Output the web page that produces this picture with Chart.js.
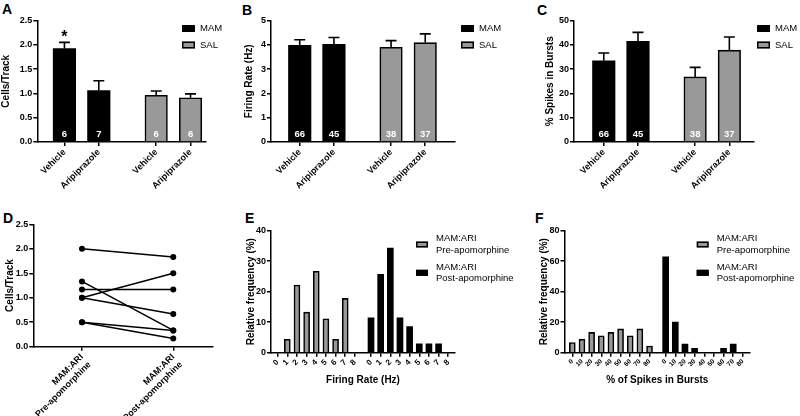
<!DOCTYPE html>
<html>
<head>
<meta charset="utf-8">
<script src="https://cdn.jsdelivr.net/npm/chart.js@4.4.1/dist/chart.umd.min.js"></script>
<style>
body { margin:0; background:#fff; width:800px; height:416px; position:relative; overflow:hidden; }
canvas { position:absolute; }
.letter { position:absolute; font:bold 14px/1 "Liberation Sans", Arial, sans-serif; color:#000; }
</style>
</head>
<body>
<div class="letter" style="left:2px;top:2px">A</div>
<div class="letter" style="left:242px;top:3px">B</div>
<div class="letter" style="left:537px;top:3px">C</div>
<div class="letter" style="left:3px;top:211px">D</div>
<div class="letter" style="left:245px;top:211px">E</div>
<div class="letter" style="left:535px;top:211px">F</div>
<canvas id="cA" width="240" height="205" style="left:0;top:0"></canvas>
<canvas id="cB" width="285" height="205" style="left:240px;top:0"></canvas>
<canvas id="cC" width="264" height="205" style="left:536px;top:0"></canvas>
<canvas id="cD" width="240" height="211" style="left:0;top:205px"></canvas>
<canvas id="cE" width="285" height="211" style="left:240px;top:205px"></canvas>
<canvas id="cF" width="270" height="211" style="left:530px;top:205px"></canvas>
<script>
// ---- data ----
var groupNames = ['MAM', 'SAL'];
var treatments = ['Vehicle', 'Aripiprazole'];

var cellsMAM = [1.92, 1.06];
var cellsMAMerr = [0.13, 0.20];
var cellsSAL = [0.96, 0.91];
var cellsSALerr = [0.09, 0.08];
var cellsN_MAM = ['6', '7'];
var cellsN_SAL = ['6', '6'];
var cellsSigMAM = ['*', ''];

var rateMAM = [3.98, 4.02];
var rateMAMerr = [0.23, 0.28];
var rateSAL = [3.90, 4.09];
var rateSALerr = [0.27, 0.36];

var burstMAM = [33.4, 41.4];
var burstMAMerr = [3.2, 3.7];
var burstSAL = [26.8, 37.8];
var burstSALerr = [3.9, 5.4];

var unitsN_MAM = ['66', '45'];
var unitsN_SAL = ['38', '37'];

var pairLabels = [['MAM:ARI', 'Pre-apomorphine'], ['MAM:ARI', 'Post-apomorphine']];
var pairPre = [2.0, 1.333, 1.167, 1.0, 1.0, 0.5, 0.5];
var pairPost = [1.833, 0.333, 1.167, 1.5, 0.667, 0.333, 0.167];

var histKeys = [['MAM:ARI', 'Pre-apomorphine'], ['MAM:ARI', 'Post-apomorphine']];
var rateBins = ['0', '1', '2', '3', '4', '5', '6', '7', '8'];
var ratePre = [0, 4.4, 22.2, 13.3, 26.7, 11.1, 4.4, 17.8, 0];
var ratePost = [11.4, 25.7, 34.3, 11.4, 8.6, 2.9, 2.9, 2.9, 0];
var burstBins = ['0', '10', '20', '30', '40', '50', '60', '70', '80'];
var burstPre = [6.7, 8.9, 13.3, 11.1, 13.3, 15.6, 11.1, 15.6, 4.4];
var burstPost = [62.9, 20.0, 5.7, 2.9, 0, 0, 2.9, 5.7, 0];

// ---- layout ----
var FONT = '"Liberation Sans", Arial, sans-serif';
Chart.defaults.font.family = FONT;
Chart.defaults.color = '#000';
var GAP = 0.67;   // extra space between the two groups, in bar slots
var BLACK = '#000000', GREY = '#999999';

// x slot of bar i in group g (groups laid side by side)
function slot(g, i, n) { return g * (n + GAP) + i; }

var extras = {
  id: 'extras',
  afterDatasetsDraw: function(chart, args, opts) {
    var ctx = chart.ctx, ys = chart.scales.y;
    chart.data.datasets.forEach(function(ds, di) {
      var meta = chart.getDatasetMeta(di);
      meta.data.forEach(function(el, i) {
        ctx.save();
        if (ds.errors) {
          var top = ys.getPixelForValue(ds.data[i].y + ds.errors[i]);
          ctx.strokeStyle = '#000';
          ctx.lineWidth = 1.6;
          ctx.beginPath();
          ctx.moveTo(el.x, el.y);
          ctx.lineTo(el.x, top);
          ctx.moveTo(el.x - 5.5, top);
          ctx.lineTo(el.x + 5.5, top);
          ctx.stroke();
          if (ds.sig && ds.sig[i]) {
            ctx.fillStyle = '#000';
            ctx.font = 'bold 16px ' + FONT;
            ctx.textAlign = 'center';
            ctx.textBaseline = 'alphabetic';
            ctx.fillText(ds.sig[i], el.x, top);
          }
        }
        if (ds.counts) {
          ctx.fillStyle = '#fff';
          ctx.font = 'bold 9.5px ' + FONT;
          ctx.textAlign = 'center';
          ctx.textBaseline = 'middle';
          ctx.fillText(ds.counts[i], el.x, ys.getPixelForValue(0) - 8);
        }
        ctx.restore();
      });
    });
    var L = opts.key;
    if (!L) return;
    ctx.save();
    chart.data.datasets.forEach(function(ds, di) {
      var cy = L.y + di * L.step;
      ctx.fillStyle = ds.backgroundColor;
      ctx.fillRect(L.x, cy - L.h / 2, L.w, L.h);
      ctx.strokeStyle = '#000';
      ctx.lineWidth = 1.5;
      ctx.strokeRect(L.x + 0.75, cy - L.h / 2 + 0.75, L.w - 1.5, L.h - 1.5);
      ctx.fillStyle = '#000';
      ctx.font = '9.5px ' + FONT;
      ctx.textAlign = 'left';
      ctx.textBaseline = 'middle';
      var lines = ds.keyLines || [ds.label];
      lines.forEach(function(t, k) {
        ctx.fillText(t, L.x + L.tx, cy + (k - (lines.length - 1) / 2) * L.lh);
      });
    });
    ctx.restore();
  }
};

function axisStyle() {
  return {
    grid: { display: true, drawOnChartArea: false, drawTicks: true, tickLength: 4, color: '#000', lineWidth: 1.5, offset: false },
    border: { display: true, color: '#000', width: 1.5 }
  };
}

function yAxis(c) {
  var a = axisStyle();
  a.min = 0; a.max = c.ymax;
  a.afterFit = function(s) { s.width = c.yw; };
  a.ticks = { stepSize: c.step, padding: 1, font: { size: 9, weight: 'bold' },
    callback: function(v) { return c.dec ? v.toFixed(c.dec) : v; } };
  a.title = { display: true, text: c.ytitle, font: { size: 10, weight: 'bold' }, padding: { top: c.ytp, bottom: 0 } };
  return a;
}

function xAxis(c, tickPos, tickText) {
  var a = axisStyle();
  a.type = 'linear';
  a.offset = false;
  a.min = c.xmin; a.max = c.xmax;
  a.afterBuildTicks = function(s) { s.ticks = tickPos.map(function(v) { return { value: v }; }); };
  a.afterFit = function(s) { s.height = c.xh; };
  a.ticks = { autoSkip: false, maxRotation: 45, minRotation: 45, padding: 1,
    font: { size: c.xfs, weight: 'bold' },
    callback: function(v, i) { return tickText[i]; } };
  if (c.xtitle) {
    a.title = { display: true, text: c.xtitle, font: { size: 10, weight: 'bold' }, padding: { top: 0, bottom: 0 } };
  }
  return a;
}

function barPanel(id, c, series, cats) {
  var tickPos = [], tickText = [];
  var datasets = series.map(function(s, g) {
    var n = s.values.length;
    s.values.forEach(function(v, i) { tickPos.push(slot(g, i, n)); tickText.push(cats[i]); });
    return {
      label: s.label, keyLines: s.keyLines,
      data: s.values.map(function(v, i) { return { x: slot(g, i, n), y: v }; }),
      errors: s.errors, counts: s.counts, sig: s.sig,
      backgroundColor: s.color, borderColor: '#000',
      borderWidth: s.color === GREY ? 1.6 : 0,
      barThickness: c.barW, grouped: false
    };
  });
  new Chart(document.getElementById(id), {
    type: 'bar',
    data: { datasets: datasets },
    options: {
      responsive: false, animation: false, events: [],
      layout: { padding: c.pad },
      plugins: { legend: { display: false }, tooltip: { enabled: false }, extras: { key: c.key } },
      scales: { x: xAxis(c, tickPos, tickText), y: yAxis(c) }
    },
    plugins: [extras]
  });
}

var topKey = { w: 13, h: 7, step: 16.5, tx: 18, lh: 11 };
function key(x, y, base) { var k = Object.assign({}, base); k.x = x; k.y = y; return k; }

// A
barPanel('cA', {
  pad: { left: 0, top: 20.5, right: 34, bottom: 0 }, yw: 37.3, xh: 63, ytp: 0,
  ymax: 2.5, step: 0.5, dec: 1, ytitle: 'Cells/Track',
  xmin: -0.79, xmax: 4.12, xfs: 9, barW: 22.5,
  key: key(182, 28.5, topKey)
}, [
  { label: groupNames[0], values: cellsMAM, errors: cellsMAMerr, counts: cellsN_MAM, sig: cellsSigMAM, color: BLACK },
  { label: groupNames[1], values: cellsSAL, errors: cellsSALerr, counts: cellsN_SAL, color: GREY }
], treatments);

// B
barPanel('cB', {
  pad: { left: 0, top: 20.5, right: 70, bottom: 0 }, yw: 31, xh: 63, ytp: 3,
  ymax: 5, step: 1, dec: 0, ytitle: 'Firing Rate (Hz)',
  xmin: -0.84, xmax: 4.54, xfs: 9, barW: 22.5,
  key: key(221, 28.5, topKey)
}, [
  { label: groupNames[0], values: rateMAM, errors: rateMAMerr, counts: unitsN_MAM, color: BLACK },
  { label: groupNames[1], values: rateSAL, errors: rateSALerr, counts: unitsN_SAL, color: GREY }
], treatments);

// C
barPanel('cC', {
  pad: { left: 0, top: 20.5, right: 46, bottom: 0 }, yw: 38, xh: 63, ytp: 8,
  ymax: 50, step: 10, dec: 0, ytitle: '% Spikes in Bursts',
  xmin: -0.87, xmax: 4.39, xfs: 9, barW: 22.5,
  key: key(221, 28.5, topKey)
}, [
  { label: groupNames[0], values: burstMAM, errors: burstMAMerr, counts: unitsN_MAM, color: BLACK },
  { label: groupNames[1], values: burstSAL, errors: burstSALerr, counts: unitsN_SAL, color: GREY }
], treatments);

// D
(function() {
  var c = { yw: 33.3, ytp: 4, ymax: 2.5, step: 0.5, dec: 1, ytitle: 'Cells/Track',
            xmin: -0.533, xmax: 1.435, xh: 69.3, xfs: 9 };
  var datasets = pairPre.map(function(v, i) {
    return { data: [{ x: 0, y: v }, { x: 1, y: pairPost[i] }],
      borderColor: '#000', borderWidth: 1.5, backgroundColor: '#000',
      pointRadius: 3, pointBackgroundColor: '#000', pointBorderWidth: 0 };
  });
  new Chart(document.getElementById('cD'), {
    type: 'line',
    data: { datasets: datasets },
    options: {
      responsive: false, animation: false, events: [],
      layout: { padding: { left: 0, top: 19.3, right: 27, bottom: 0 } },
      plugins: { legend: { display: false }, tooltip: { enabled: false } },
      scales: { x: xAxis(c, [0, 1], pairLabels), y: yAxis(c) }
    }
  });
})();

var histKey = { w: 12, h: 6, step: 28.3, tx: 20, lh: 11.8 };

// E
barPanel('cE', {
  pad: { left: 0, top: 25.7, right: 70, bottom: 30 }, yw: 31, xh: 33.3, ytp: 5,
  ymax: 40, step: 10, dec: 0, ytitle: 'Relative frequency (%)', xtitle: 'Firing Rate (Hz)',
  xmin: -0.69, xmax: 18.37, xfs: 8, barW: 6,
  key: key(176, 39.5, histKey)
}, [
  { label: histKeys[0].join(' '), keyLines: histKeys[0], values: ratePre, color: GREY },
  { label: histKeys[1].join(' '), keyLines: histKeys[1], values: ratePost, color: BLACK }
], rateBins);

// F
barPanel('cF', {
  pad: { left: 0, top: 25.7, right: 50, bottom: 30 }, yw: 34.5, xh: 33.3, ytp: 8,
  ymax: 80, step: 20, dec: 0, ytitle: 'Relative frequency (%)', xtitle: '% of Spikes in Bursts',
  xmin: -0.81, xmax: 18.41, xfs: 6.5, barW: 6,
  key: key(166.7, 39.5, histKey)
}, [
  { label: histKeys[0].join(' '), keyLines: histKeys[0], values: burstPre, color: GREY },
  { label: histKeys[1].join(' '), keyLines: histKeys[1], values: burstPost, color: BLACK }
], burstBins);
</script>
</body>
</html>
